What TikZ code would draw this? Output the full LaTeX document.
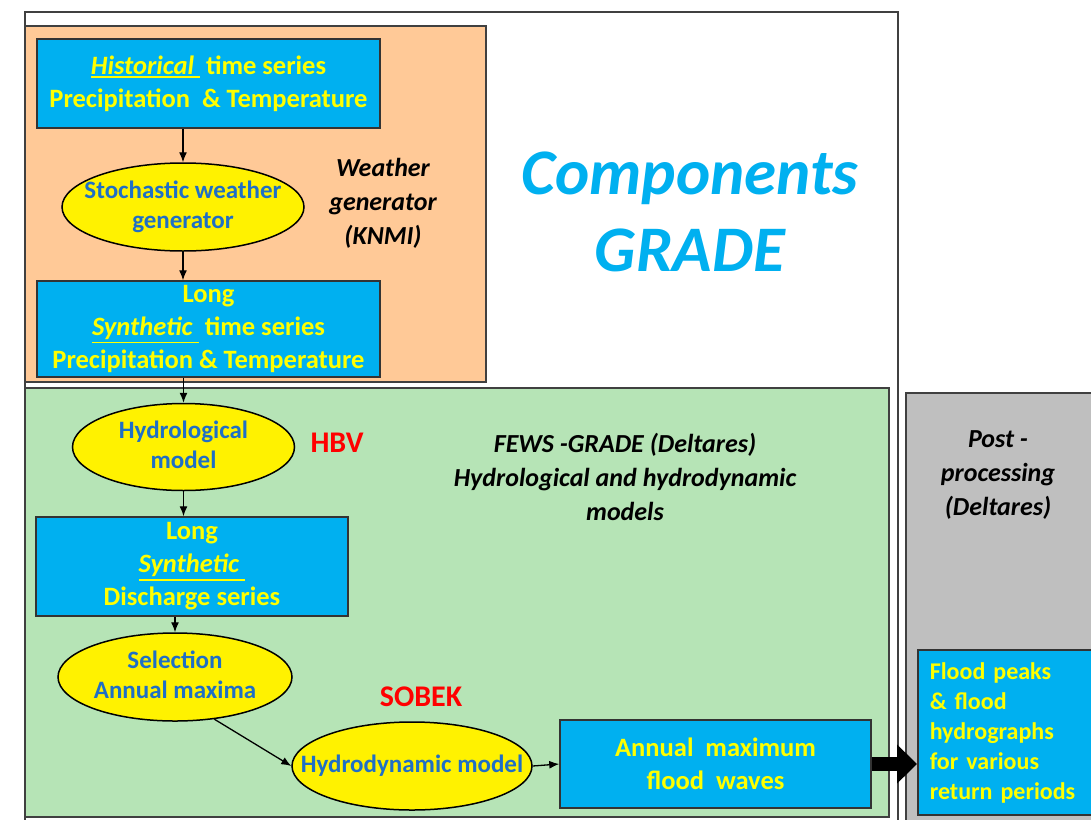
\documentclass[tikz,border=0pt]{standalone}
\usepackage{fontspec}
\setmainfont{Carlito}
\usetikzlibrary{positioning,shapes.geometric,arrows.meta}
\definecolor{boxBlue}{HTML}{00B0F0}
\definecolor{txtYellow}{HTML}{FFFF00}
\definecolor{txtBlue}{HTML}{1F6FC6}
\definecolor{wgOrange}{HTML}{FFC997}
\definecolor{fewsGreen}{HTML}{B6E4B6}
\definecolor{postGray}{HTML}{BFBFBF}
\newcommand{\ulit}[1]{\setbox0\hbox{\textit{#1}\ }\rlap{\rule[-\dimexpr\dp0+3.5pt\relax]{\wd0}{1.6pt}}\box0}
\newcommand{\ctext}[1]{\makebox[0pt]{\begin{tabular}{@{}c@{}}#1\end{tabular}}}
\tikzset{
    seriesBox/.style={draw=black!80, line width=1.5pt, fill=boxBlue, text=txtYellow,
        font=\bfseries\fontsize{26.5}{33}\selectfont, align=center, inner sep=0pt},
    modelEllipse/.style={ellipse, draw=black, line width=1.5pt, fill=yellow, text=txtBlue,
        font=\bfseries\fontsize{25}{30}\selectfont, inner sep=0pt},
    panel/.style={draw=black!75, line width=1.5pt},
    note/.style={font=\bfseries\itshape\fontsize{26}{34}\selectfont, align=center},
    flow/.style={-{Latex[length=10pt,width=8pt]}, line width=1.3pt},
    toolName/.style={text=red, font=\bfseries\fontsize{30}{36}\selectfont}
}
\begin{document}
\begin{tikzpicture}[x=1pt,y=-1pt]
    \useasboundingbox (0,0) rectangle (1091,819);
    % panels
    \draw[panel, fill=white] (25,12) rectangle (898,840);
    \filldraw[panel, fill=wgOrange] (25,26) rectangle (486,382);
    \filldraw[panel, fill=fewsGreen] (25,388) rectangle (889,817);
    \filldraw[panel, fill=postGray] (906,393) rectangle (1110,840);
    % weather generator
    \node[seriesBox, minimum width=343, minimum height=89] (hist) at (208.5,83.5)
        {\ulit{Historical}\ time series\\Precipitation\ \ \& Temperature};
    \node[modelEllipse, minimum width=242, minimum height=88] (stoch) at (183,207)
        {\ctext{Stochastic weather\\generator}};
    \node[seriesBox, minimum width=343, minimum height=96] (synprec) at (208.5,329)
        {Long\\\ulit{Synthetic}\ time series\\Precipitation \& Temperature};
    \node[note] (wgnote) at (383,203) {Weather\\generator\\(KNMI)};
    % hydrological models
    \node[modelEllipse, minimum width=222, minimum height=87] (hydro) at (183.5,447)
        {\ctext{Hydrological\\model}};
    \node[toolName] (hbv) at (337,443) {HBV};
    \node[seriesBox, minimum width=312, minimum height=99] (disch) at (192,566.5)
        {Long\\\ulit{Synthetic}\\Discharge series};
    \node[modelEllipse, minimum width=234, minimum height=88] (select) at (175,677)
        {\ctext{Selection\\Annual maxima}};
    \node[toolName] (sobek) at (421,697) {SOBEK};
    \node[modelEllipse, minimum width=240, minimum height=88] (hydrodyn) at (412,766)
        {\ctext{Hydrodynamic model}};
    \node[seriesBox, minimum width=311, minimum height=88] (annual) at (715.5,764)
        {Annual~ maximum\\flood~ waves};
    \node[note] (fews) at (625,477)
        {FEWS -GRADE (Deltares)\\Hydrological and hydrodynamic\\models};
    % post-processing
    \node[note] (post) at (998,475) {Post -\\processing\\(Deltares)};
    \node[seriesBox, font=\bfseries\fontsize{24}{30}\selectfont, align=left, text width=160,
        inner xsep=12, minimum height=165, anchor=west] (flood) at (917,732.5)
        {Flood peaks\\\& flood\\hydrographs\\for various\\return periods};
    \node[text=boxBlue, font=\bfseries\itshape\fontsize{65}{77}\selectfont, align=center]
        (title) at (690,212) {Components\\GRADE};
    % connectors
    \draw[flow] (stoch.north |- hist.south) -- (stoch.north);
    \draw[flow] (stoch.south) -- (stoch.south |- synprec.north);
    \draw[flow] (hydro.north |- synprec.south) -- (hydro.north);
    \draw[flow] (hydro.south) -- (hydro.south |- disch.north);
    \draw[flow] (select.north |- disch.south) -- (select.north);
    \draw[flow] (select.-47) -- (hydrodyn.west);
    \draw[flow] (hydrodyn.east) -- (annual.west);
    \draw[line width=14pt, -{Triangle[length=20pt,width=38pt]}] (annual.east) -- (annual.east -| flood.west);
\end{tikzpicture}
\end{document}
